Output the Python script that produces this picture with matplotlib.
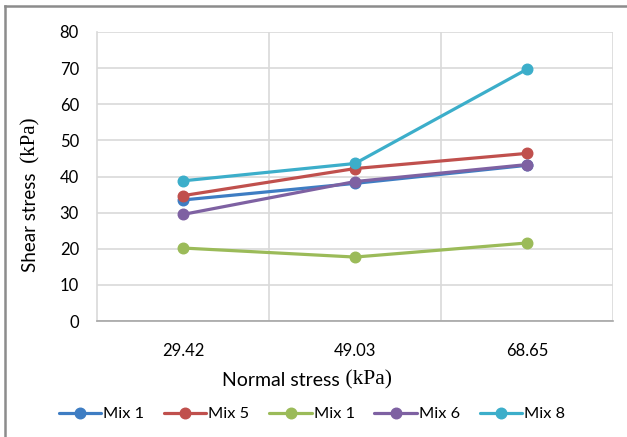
import matplotlib.pyplot as plt
from matplotlib.lines import Line2D

# normal stress levels (kPa) and measured shear stress (kPa) per mix
normal_stress = ['29.42', '49.03', '68.65']
mix_names = ['Mix 1', 'Mix 5', 'Mix 1', 'Mix 6', 'Mix 8']
mix1_a = [33.5, 38.1, 43.1]
mix5 = [34.7, 42.2, 46.4]
mix1_b = [20.2, 17.7, 21.6]
mix6 = [29.5, 38.6, 43.3]
mix8 = [38.8, 43.6, 69.7]
colors = ['#3E7DC3', '#C0504D', '#9BBB59', '#7E61A2', '#3CAECA']

plt.rcParams['font.family'] = ['Lato', 'DejaVu Sans']
serif = ['Liberation Serif', 'DejaVu Serif']

fig = plt.figure(figsize=(6.27, 4.37), dpi=100)
ax = fig.add_axes([97 / 627, 1 - 321 / 437, 516 / 627, 289 / 437])

x = range(len(normal_stress))
series = [mix1_a, mix5, mix1_b, mix6, mix8]
for name, ys, c in zip(mix_names, series, colors):
    ax.plot(x, ys, color=c, lw=2.3, marker='o', ms=7.6, label=name,
            solid_capstyle='round')

ax.set_xlim(-0.5, 2.5)
ax.set_ylim(0, 80)
ax.set_yticks(range(0, 81, 10))
ax.set_xticks(list(x))
ax.set_xticklabels(normal_stress)

# category boundaries drawn as vertical gridlines
for b in [0.5, 1.5, 2.5]:
    ax.axvline(b, color='#d9d9d9', lw=1.2, zorder=0)
ax.yaxis.grid(True, color='#d9d9d9', lw=1.2, zorder=0)
ax.set_axisbelow(True)

for side in ['top', 'right']:
    ax.spines[side].set_visible(False)
ax.spines['left'].set_color('#d9d9d9')
ax.spines['left'].set_linewidth(1.2)
ax.spines['bottom'].set_color('#a6a6a6')
ax.spines['bottom'].set_linewidth(1.2)
ax.tick_params(axis='both', length=0, labelsize=12, colors='#000000')
ax.tick_params(axis='y', pad=13)
ax.tick_params(axis='x', pad=16)

# axis titles: sans text with serif unit
xl_x, xl_y = 340 / 627, 1 - 380 / 437
fig.text(xl_x, xl_y, 'Normal stress', fontsize=14, ha='right', va='center')
fig.text(xl_x, xl_y, ' (kPa)', fontsize=15.5, ha='left', va='center', family=serif)
yl_x, yl_y = 31 / 627, 1 - 168 / 437
fig.text(yl_x, yl_y, 'Shear stress ', fontsize=13.5, rotation=90, ha='center', va='top')
fig.text(yl_x, yl_y, ' (kPa)', fontsize=15, rotation=90, ha='center', va='bottom',
         family=serif)

fig.legend(loc='center', bbox_to_anchor=(312 / 627, 1 - 414 / 437), ncol=5,
           frameon=False, fontsize=11.8, handlelength=2.6, handletextpad=0.12,
           columnspacing=1.2)

# outer chart frame (left and top edges visible)
fig.add_artist(Line2D([5 / 627, 5 / 627], [0, 1 - 6 / 437], color='#8c8c8c', lw=1.8,
                      transform=fig.transFigure))
fig.add_artist(Line2D([5 / 627, 1], [1 - 6 / 437, 1 - 6 / 437], color='#8c8c8c', lw=1.8,
                      transform=fig.transFigure))

fig.savefig('out.png', dpi=100)
